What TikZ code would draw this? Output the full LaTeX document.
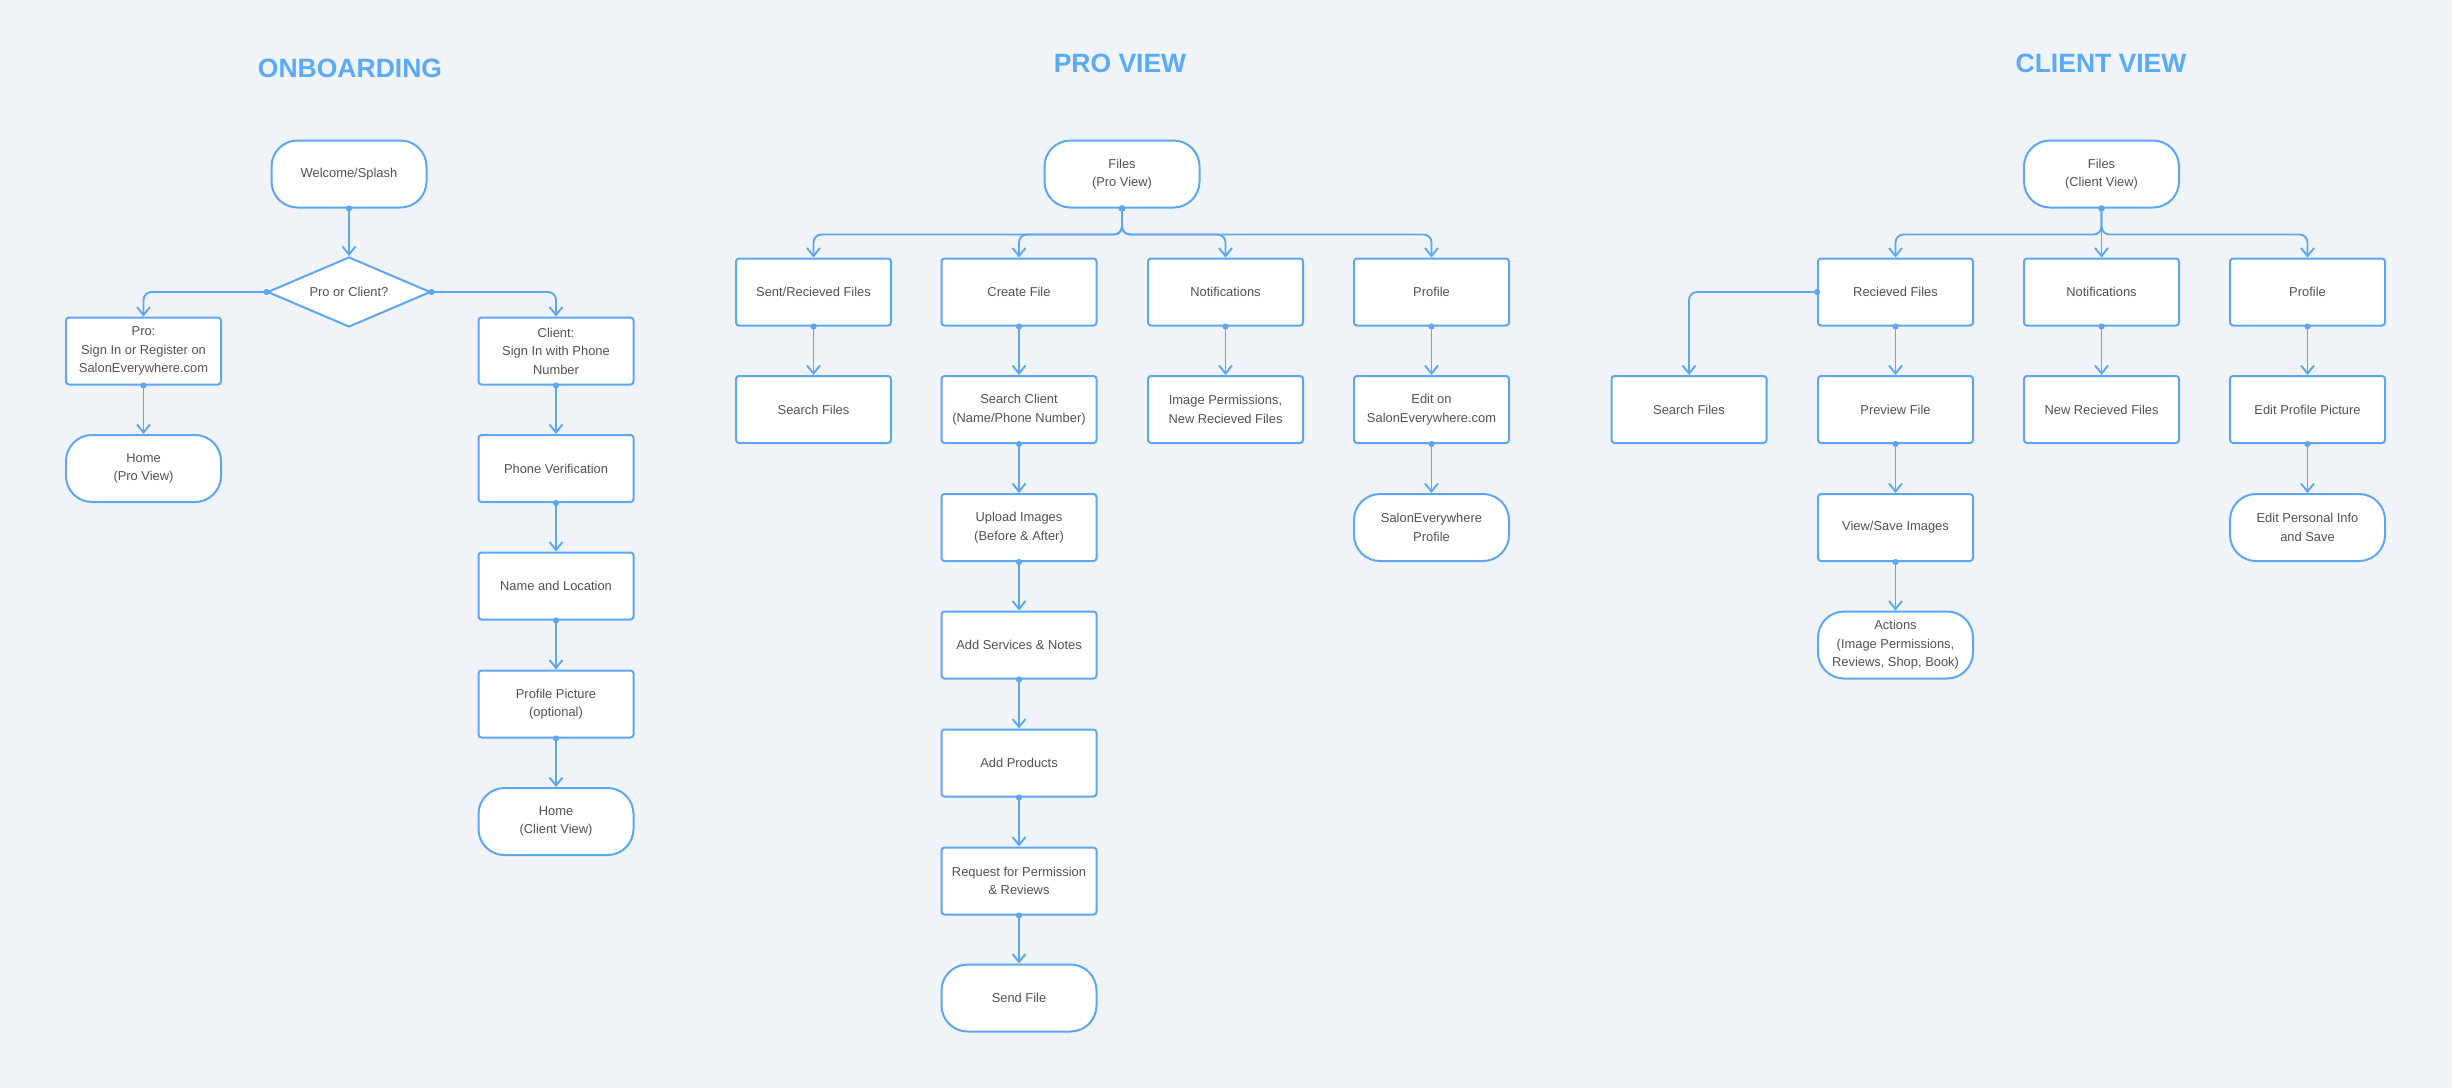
\documentclass[tikz,border=0pt]{standalone}
\usepackage{fontspec}
\setmainfont{Liberation Sans}
\usetikzlibrary{arrows.meta,shapes.geometric}

\definecolor{pagebg}{HTML}{F0F4F8}
\definecolor{lineblue}{HTML}{5CA6F2}
\definecolor{titleblue}{HTML}{5AAAF5}
\definecolor{textgrey}{HTML}{4F5258}

\tikzset{
  stepbox/.style={draw=lineblue, fill=white, line width=2pt, rounded corners=3pt,
    minimum width=155pt, minimum height=67pt, inner sep=2pt, align=center,
    text=textgrey, font=\fontsize{12.9}{18.5}\selectfont},
  endbox/.style={stepbox, rounded corners=26pt},
  choicebox/.style={stepbox, diamond, aspect=2.33, rounded corners=0pt, minimum width=163pt,
    minimum height=70pt, inner sep=0pt},
  heading/.style={text=titleblue, font=\fontsize{26.5}{30}\selectfont\bfseries},
  flow/.style={draw=lineblue, line width=1.9pt, rounded corners=8pt, shorten <=-3pt,
    {Circle[length=6pt]}-{Straight Barb[length=8pt,width=13pt]}}
}

\begin{document}
\begin{tikzpicture}[x=1pt,y=-1pt]

		\fill [pagebg] (0,0) rectangle (2452,1088);
		\useasboundingbox (0,0) rectangle (2452,1088);

		% onboarding
		\node (t_onb) [heading] at (350,68) {ONBOARDING};
		\node (welcome) [endbox] at (349,174) {Welcome/Splash};
		\node (choice) [choicebox] at (349,292) {Pro or Client?};
		\node (pro) [stepbox] at (143.5,351) {Pro:\\Sign In or Register on\\SalonEverywhere.com};
		\node (client) [stepbox] at (556,351) {Client:\\Sign In with Phone\\Number};
		\node (homepro) [endbox] at (143.5,468.5) {Home\\(Pro View)};
		\node (phone) [stepbox] at (556,468.5) {Phone Verification};
		\node (nameloc) [stepbox] at (556,586) {Name and Location};
		\node (pic) [stepbox] at (556,704) {Profile Picture\\(optional)};
		\node (homeclient) [endbox] at (556,821.5) {Home\\(Client View)};

		\draw [flow] (welcome.south) -- (choice.north);
		\draw [flow] (choice.west) -| (pro.north);
		\draw [flow] (choice.east) -| (client.north);
		\draw [flow] (pro.south) -- (homepro.north);
		\draw [flow] (client.south) -- (phone.north);
		\draw [flow] (phone.south) -- (nameloc.north);
		\draw [flow] (nameloc.south) -- (pic.north);
		\draw [flow] (pic.south) -- (homeclient.north);

		% pro view
		\node (t_pro) [heading] at (1120,63) {PRO VIEW};
		\node (pfiles) [endbox] at (1122,174) {Files\\(Pro View)};
		\node (sent) [stepbox] at (813.5,292) {Sent/Recieved Files};
		\node (create) [stepbox] at (1019,292) {Create File};
		\node (pnotif) [stepbox] at (1225.5,292) {Notifications};
		\node (pprofile) [stepbox] at (1431.5,292) {Profile};
		\node (psearch) [stepbox] at (813.5,409.5) {Search Files};
		\node (sclient) [stepbox] at (1019,409.5) {Search Client\\(Name/Phone Number)};
		\node (perms) [stepbox] at (1225.5,409.5) {Image Permissions,\\New Recieved Files};
		\node (editon) [stepbox] at (1431.5,409.5) {Edit on\\SalonEverywhere.com};
		\node (upload) [stepbox] at (1019,527.5) {Upload Images\\(Before \& After)};
		\node (seprofile) [endbox] at (1431.5,527.5) {SalonEverywhere\\Profile};
		\node (services) [stepbox] at (1019,645) {Add Services \& Notes};
		\node (products) [stepbox] at (1019,763) {Add Products};
		\node (request) [stepbox] at (1019,881) {Request for Permission\\\& Reviews};
		\node (send) [endbox] at (1019,998) {Send File};

		\foreach \child in {sent,create,pnotif,pprofile}
			\draw [flow] (pfiles.south) -- ++(0,26) -| (\child.north);
		\draw [flow] (sent.south) -- (psearch.north);
		\draw [flow] (create.south) -- (sclient.north);
		\draw [flow] (pnotif.south) -- (perms.north);
		\draw [flow] (pprofile.south) -- (editon.north);
		\draw [flow] (sclient.south) -- (upload.north);
		\draw [flow] (editon.south) -- (seprofile.north);
		\draw [flow] (upload.south) -- (services.north);
		\draw [flow] (services.south) -- (products.north);
		\draw [flow] (products.south) -- (request.north);
		\draw [flow] (request.south) -- (send.north);

		% client view
		\node (t_client) [heading] at (2101,63) {CLIENT VIEW};
		\node (cfiles) [endbox] at (2101.5,174) {Files\\(Client View)};
		\node (received) [stepbox] at (1895.5,292) {Recieved Files};
		\node (cnotif) [stepbox] at (2101.5,292) {Notifications};
		\node (cprofile) [stepbox] at (2307.5,292) {Profile};
		\node (csearch) [stepbox] at (1689,409.5) {Search Files};
		\node (preview) [stepbox] at (1895.5,409.5) {Preview File};
		\node (newrec) [stepbox] at (2101.5,409.5) {New Recieved Files};
		\node (editpic) [stepbox] at (2307.5,409.5) {Edit Profile Picture};
		\node (viewsave) [stepbox] at (1895.5,527.5) {View/Save Images};
		\node (editinfo) [endbox] at (2307.5,527.5) {Edit Personal Info\\and Save};
		\node (actions) [endbox] at (1895.5,645) {Actions\\(Image Permissions,\\Reviews, Shop, Book)};

		\draw [flow] (cfiles.south) -- ++(0,26) -| (received.north);
		\draw [flow] (cfiles.south) -- (cnotif.north);
		\draw [flow] (cfiles.south) -- ++(0,26) -| (cprofile.north);
		\draw [flow] (received.west) -| (csearch.north);
		\draw [flow] (received.south) -- (preview.north);
		\draw [flow] (cnotif.south) -- (newrec.north);
		\draw [flow] (cprofile.south) -- (editpic.north);
		\draw [flow] (preview.south) -- (viewsave.north);
		\draw [flow] (editpic.south) -- (editinfo.north);
		\draw [flow] (viewsave.south) -- (actions.north);

\end{tikzpicture}
\end{document}
